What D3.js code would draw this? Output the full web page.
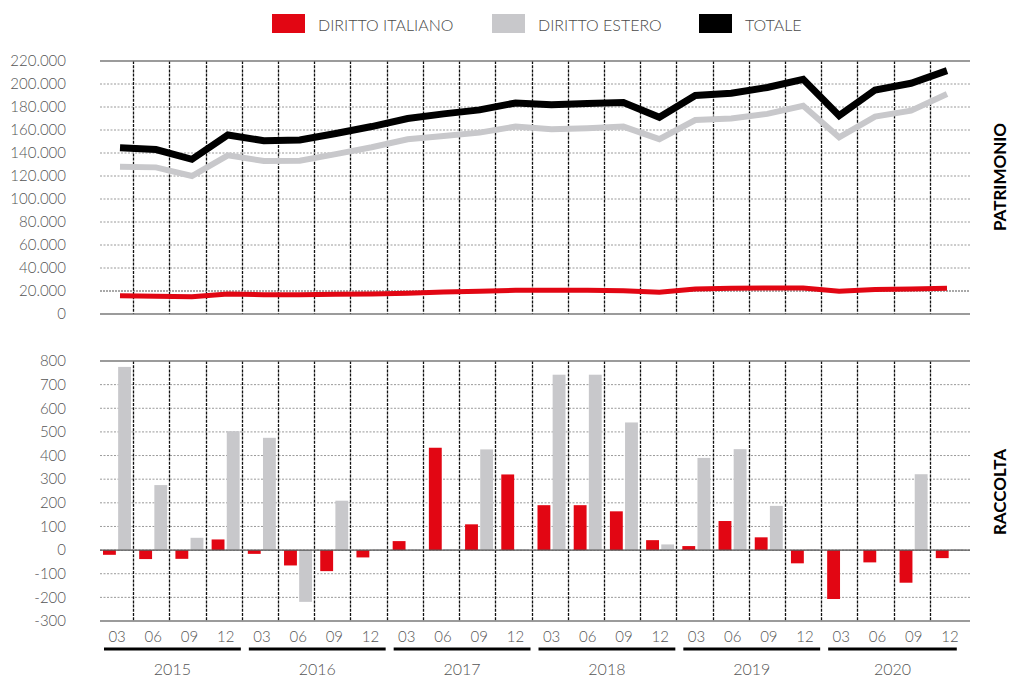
<!DOCTYPE html>
<html>
<head>
<meta charset="utf-8">
<script src="https://cdn.jsdelivr.net/npm/d3@7"></script>
<style>
  html, body { margin: 0; padding: 0; background: #ffffff; }
  svg { display: block; font-family: "Lato", "Open Sans", sans-serif; }
</style>
</head>
<body>
<svg id="chart" width="1009" height="678"></svg>
<script>
// ---------------- DATA ----------------
const years = ["2015", "2016", "2017", "2018", "2019", "2020"];
const months = ["03", "06", "09", "12"];
const quarters = years.flatMap(y => months.map(m => y + "-" + m));

// PATRIMONIO (line chart)
const patrItaliano = [15900, 15400, 15000, 17400, 16800, 16800, 17100, 17400, 18000, 19100, 19700, 20600,
                      20600, 20600, 20300, 18900, 21700, 22300, 22600, 22600, 19700, 21200, 21700, 22300];
const patrEstero   = [128000, 127500, 120000, 138000, 133000, 133300, 139000, 145000, 152000, 154800, 157700, 163000,
                      160600, 161500, 163000, 152000, 168700, 170000, 174000, 181000, 153600, 171600, 176800, 191300];
const patrTotale   = [144500, 143000, 134500, 155700, 150700, 151300, 157000, 163000, 170000, 174000, 177500, 183500,
                      182000, 183000, 184000, 171000, 190000, 192000, 197000, 204000, 172500, 194800, 200600, 211600];

// RACCOLTA (bar chart)
const raccItaliano = [-20, -38, -37, 45, -16, -65, -89, -31, 38, 433, 109, 320,
                      190, 190, 164, 42, 17, 123, 54, -56, -207, -52, -138, -34];
const raccEstero   = [775, 275, 52, 503, 475, -219, 209, 3, 3, 3, 426, 3,
                      742, 742, 540, 24, 390, 427, 187, 3, 2, 3, 321, 3];

const patrTicks = [0, 20000, 40000, 60000, 80000, 100000, 120000, 140000, 160000, 180000, 200000, 220000];
const raccTicks = [-300, -200, -100, 0, 100, 200, 300, 400, 500, 600, 700, 800];

const legendItems = [
  { label: "DIRITTO ITALIANO", color: "#e20613" },
  { label: "DIRITTO ESTERO", color: "#c8c8cb" },
  { label: "TOTALE", color: "#000000" }
];

// ---------------- SETUP ----------------
const RED = "#e20613", GRAY = "#c8c8cb", BLACK = "#000000";
const svg = d3.select("#chart");
const locale = d3.formatLocale({ decimal: ",", thousands: ".", grouping: [3], currency: ["", ""], minus: "-" });
const fmt = locale.format(",d");

const plotL = 100, plotR = 970;
const xBand = d3.scaleBand().domain(quarters).range([97, 966]).padding(0);
const xLine = d3.scalePoint().domain(quarters).range([120, 947]);
const xSub = d3.scaleBand().domain(["it", "es"]).range([6, 34]).paddingInner(0.15);

const yTop = d3.scaleLinear().domain([0, 220000]).range([314, 61]);
const yBot = d3.scaleLinear().domain([-300, 800]).range([621, 361]);

// ---------------- LEGEND ----------------
const legX = [272, 492, 699];
const leg = svg.append("g");
legendItems.forEach((d, i) => {
  leg.append("rect").attr("x", legX[i]).attr("y", 14).attr("width", 33).attr("height", 19).attr("fill", d.color);
  leg.append("text").attr("x", legX[i] + 46).attr("y", 25).attr("dy", "0.35em")
    .attr("font-size", 16).attr("font-weight", 300).attr("fill", "#4a4a4a").text(d.label);
});

// ---------------- PANEL helper ----------------
function drawGrid(y, ticks, topVal, botVal, strongVal) {
  const g = svg.append("g");
  ticks.forEach(t => {
    if (t === topVal || t === botVal) return;
    g.append("line").attr("x1", plotL).attr("x2", plotR).attr("y1", y(t)).attr("y2", y(t))
      .attr("stroke", t === strongVal ? "#555" : "#9a9a9a").attr("stroke-width", t === strongVal ? 1.2 : 1)
      .attr("stroke-dasharray", t === strongVal ? "2,1" : "2,1.5");
  });
  // vertical dashed band separators
  quarters.slice(1).forEach(q => {
    const x = Math.round(xBand(q)) + 0.5;
    g.append("line").attr("x1", x).attr("x2", x).attr("y1", y(topVal)).attr("y2", y(botVal))
      .attr("stroke", "#111").attr("stroke-width", 1.3).attr("stroke-dasharray", "3,1.2");
  });
  // frame lines top & bottom
  [topVal, botVal].forEach(t => {
    g.append("line").attr("x1", plotL).attr("x2", plotR).attr("y1", y(t)).attr("y2", y(t))
      .attr("stroke", "#7a7a7a").attr("stroke-width", 1.3);
  });
  // y axis labels
  const ax = svg.append("g").attr("transform", "translate(66,0)")
    .call(d3.axisLeft(y).tickValues(ticks).tickSize(0).tickPadding(0).tickFormat(fmt));
  ax.select(".domain").remove();
  ax.selectAll("text").attr("font-size", 15).attr("font-weight", 300).attr("fill", "#555")
    .attr("font-family", "Lato, sans-serif");
}

// ---------------- TOP PANEL: PATRIMONIO ----------------
drawGrid(yTop, patrTicks, 220000, 0, 20000);

const lineGen = d3.line().x((d, i) => xLine(quarters[i])).y(d => yTop(d));
const linesG = svg.append("g").attr("fill", "none").attr("stroke-linejoin", "miter");
linesG.append("path").datum(patrEstero).attr("d", lineGen).attr("stroke", GRAY).attr("stroke-width", 6);
linesG.append("path").datum(patrTotale).attr("d", lineGen).attr("stroke", BLACK).attr("stroke-width", 7);
linesG.append("path").datum(patrItaliano).attr("d", lineGen).attr("stroke", RED).attr("stroke-width", 5);

// ---------------- BOTTOM PANEL: RACCOLTA ----------------
drawGrid(yBot, raccTicks, 800, -300, null);

const barsG = svg.append("g");
const barData = quarters.flatMap((q, i) => [
  { q, key: "it", v: raccItaliano[i] },
  { q, key: "es", v: raccEstero[i] }
]);
barsG.selectAll("rect").data(barData).join("rect")
  .attr("x", d => xBand(d.q) + xSub(d.key))
  .attr("width", xSub.bandwidth())
  .attr("y", d => yBot(Math.max(0, d.v)))
  .attr("height", d => Math.abs(yBot(d.v) - yBot(0)))
  .attr("fill", d => d.key === "it" ? RED : GRAY);

// zero line
svg.append("line").attr("x1", plotL).attr("x2", plotR).attr("y1", yBot(0)).attr("y2", yBot(0))
  .attr("stroke", "#555").attr("stroke-width", 1.2);

// ---------------- X AXIS (months & years) ----------------
const xAx = svg.append("g").attr("transform", "translate(2,637)")
  .call(d3.axisBottom(xBand).tickSize(0).tickPadding(0).tickFormat(q => q.slice(5)));
xAx.select(".domain").remove();
xAx.selectAll("text").attr("dy", "0.35em").attr("font-size", 15).attr("font-weight", 300)
  .attr("fill", "#555").attr("font-family", "Lato, sans-serif");

const yearG = svg.append("g");
years.forEach(yr => {
  const x0 = xBand(yr + "-03") + 7;
  const x1 = yr === "2020" ? xBand(yr + "-12") + 27 : xBand(yr + "-12") + xBand.bandwidth() - 1;
  yearG.append("line").attr("x1", x0).attr("x2", x1).attr("y1", 649).attr("y2", 649)
    .attr("stroke", "#000").attr("stroke-width", 3);
  yearG.append("text").attr("x", (x0 + x1) / 2).attr("y", 669).attr("dy", "0.35em")
    .attr("text-anchor", "middle").attr("font-size", 16).attr("font-weight", 300).attr("fill", "#555")
    .text(yr);
});

// ---------------- SIDE LABELS ----------------
[["PATRIMONIO", 177], ["RACCOLTA", 492]].forEach(([t, cy]) => {
  svg.append("text").attr("transform", `translate(1000,${cy}) rotate(-90)`)
    .attr("text-anchor", "middle").attr("dy", "0.35em")
    .attr("font-size", 17).attr("font-weight", 700).attr("fill", "#000").text(t);
});
</script>
</body>
</html>
